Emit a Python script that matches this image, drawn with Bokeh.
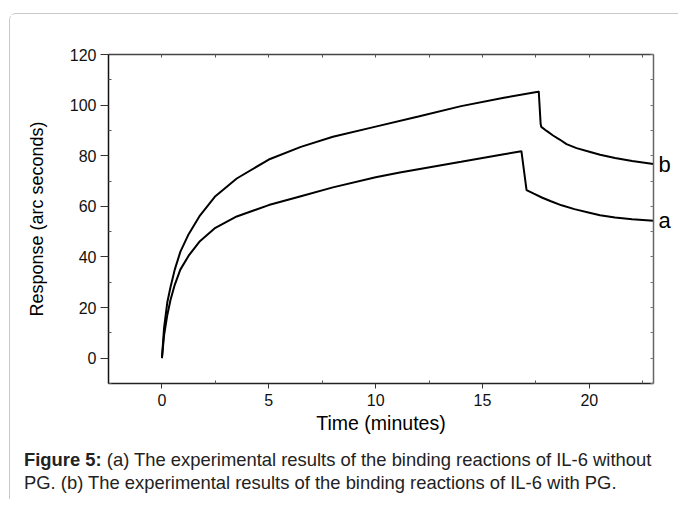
from bokeh.plotting import figure
from bokeh.models import LinearAxis, FixedTicker, Range1d, Div
from bokeh.layouts import column
from bokeh.embed import file_html
from bokeh.resources import INLINE

# Curve b (with PG)
time_b = [0, 0.1, 0.25, 0.4, 0.6, 0.86, 1.25, 1.75, 2.5, 3.5, 5, 6.5, 8, 10, 12, 14,
          16, 17.6, 17.63, 17.72, 17.75, 18.0, 18.3, 18.61, 18.93, 19.4, 20.0, 20.5,
          21.2, 22.0, 23]
resp_b = [0, 12, 22, 28, 35, 42, 49, 56, 64, 71, 78.5, 83.5, 87.5, 91.5, 95.5, 99.6,
          102.9, 105.3, 105.5, 92.5, 91.4, 89.8, 88.0, 86.4, 84.6, 83.0, 81.6, 80.4,
          79.1, 77.9, 76.7]

# Curve a (without PG)
time_a = [0, 0.1, 0.25, 0.4, 0.6, 0.86, 1.25, 1.75, 2.5, 3.5, 5, 6.5, 8, 10, 11.13, 12,
          14, 16, 16.82, 17.06, 17.4, 17.8, 18.2, 18.7, 19.3, 20.0, 20.5, 21.2, 22.0, 23]
resp_a = [0, 9, 17, 23, 29, 35, 40.5, 46, 51.5, 56, 60.5, 64, 67.5, 71.5, 73.4, 74.7,
          77.6, 80.6, 81.8, 66.4, 65.0, 63.4, 62.0, 60.4, 58.9, 57.5, 56.5, 55.6, 54.9, 54.3]

x_major = [0, 5, 10, 15, 20]
x_minor = [-2.5, 2.5, 7.5, 12.5, 17.5, 22.5]
y_major = [0, 20, 40, 60, 80, 100, 120]
y_minor = [-10, 10, 30, 50, 70, 90, 110]
curve_names = {resp_a[-1]: "a", resp_b[-1]: "b"}

caption_bold = "Figure 5:"
caption_line1 = "(a) The experimental results of the binding reactions of IL-6 without"
caption_line2 = "PG. (b) The experimental results of the binding reactions of IL-6 with PG."

FONT = "Liberation Sans"

p = figure(width=667, height=425, x_range=Range1d(-2.5, 23), y_range=Range1d(-10, 120),
           output_backend="svg", toolbar_location=None,
           min_border_left=98, min_border_top=40, min_border_right=24, min_border_bottom=56,
           outline_line_color=None, background_fill_color="white", border_fill_color="white")
p.grid.visible = False

p.line(time_b, resp_b, line_color="black", line_width=2)
p.line(time_a, resp_a, line_color="black", line_width=2)

# bottom axis
xa = p.xaxis[0]
xa.ticker = FixedTicker(ticks=x_major, minor_ticks=x_minor)
xa.axis_label = "Time (minutes)"
xa.axis_label_text_font = FONT
xa.axis_label_text_font_size = "19.5px"
xa.axis_label_text_font_style = "normal"
xa.axis_label_text_color = "black"
xa.axis_label_standoff = 3
xa.major_label_text_font = FONT
xa.major_label_text_font_size = "16px"
xa.major_label_text_color = "#111111"
xa.major_label_standoff = 5
xa.major_tick_out = 5
xa.major_tick_in = 0
xa.minor_tick_out = 0
xa.minor_tick_in = 3
xa.axis_line_color = "#222222"
xa.axis_line_width = 1.5
xa.major_tick_line_color = "#333333"
xa.minor_tick_line_color = "#555555"

# left axis
ya = p.yaxis[0]
ya.ticker = FixedTicker(ticks=y_major, minor_ticks=y_minor)
ya.axis_label = "Response (arc seconds)"
ya.axis_label_text_font = FONT
ya.axis_label_text_font_size = "18px"
ya.axis_label_text_font_style = "normal"
ya.axis_label_text_color = "black"
ya.axis_label_standoff = 20
ya.major_label_text_font = FONT
ya.major_label_text_font_size = "16px"
ya.major_label_text_color = "#111111"
ya.major_label_standoff = 4
ya.major_tick_out = 8
ya.major_tick_in = 0
ya.minor_tick_out = 0
ya.minor_tick_in = 3
ya.axis_line_color = "#111111"
ya.axis_line_width = 1.5
ya.major_tick_line_color = "#333333"
ya.minor_tick_line_color = "#555555"

# top axis (ticks only)
ta = LinearAxis(ticker=FixedTicker(ticks=[], minor_ticks=x_major + x_minor),
                minor_tick_in=3, minor_tick_out=0, major_tick_in=0, major_tick_out=0,
                axis_line_color="#444444", axis_line_width=1.5,
                minor_tick_line_color="#555555")
p.add_layout(ta, "above")

# right axis: ticks + curve names
ra = LinearAxis(ticker=FixedTicker(ticks=[resp_a[-1], resp_b[-1]], minor_ticks=y_major + y_minor),
                major_label_overrides=curve_names,
                major_label_text_font=FONT, major_label_text_font_size="22px",
                major_label_text_color="black", major_label_standoff=5,
                minor_tick_in=3, minor_tick_out=0, major_tick_in=0, major_tick_out=0,
                axis_line_color="#666666", axis_line_width=1.5,
                minor_tick_line_color="#777777")
p.add_layout(ra, "right")

cap = Div(text=f"<b>{caption_bold}</b> {caption_line1}<br>{caption_line2}", width=660,
          styles={"font-family": FONT, "font-size": "18.4px", "line-height": "23px",
                  "color": "#222222", "white-space": "nowrap",
                  "padding-left": "9px", "padding-top": "4px"})

root = column(p, cap, styles={"border-top": "1px solid #c8c8c8",
                              "border-left": "1px solid #c8c8c8",
                              "border-top-left-radius": "7px",
                              "margin-left": "9px", "margin-top": "13px"})

open("out.html", "w").write(file_html(root, INLINE))
